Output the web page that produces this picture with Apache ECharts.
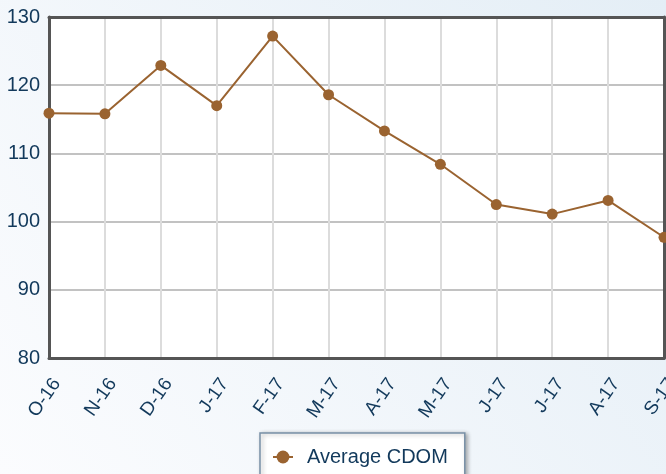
<!DOCTYPE html>
<html>
<head>
<meta charset="utf-8">
<script src="https://cdn.jsdelivr.net/npm/echarts@6/dist/echarts.min.js"></script>
<style>
  html, body { margin: 0; padding: 0; }
  #main { width: 666px; height: 474px; }
</style>
</head>
<body>
<div id="main"></div>
<script>
// monthly values
var months = ["O-16", "N-16", "D-16", "J-17", "F-17", "M-17", "A-17", "M-17", "J-17", "J-17", "A-17", "S-17"];
var avgCdom = [115.9, 115.8, 122.9, 117.0, 127.2, 118.6, 113.3, 108.4, 102.5, 101.1, 103.1, 97.7];
var yTicks = { min: 80, max: 130, interval: 10 };

var navy = "#12395b";
var brown = "#9a6330";
var frame = { show: true, onZero: false, lineStyle: { color: "#555555", width: 3 } };

var chart = echarts.init(document.getElementById("main"));
chart.setOption({
  animation: false,
  backgroundColor: {
    type: "linear", x: 0, y: 1, x2: 1, y2: 0,
    colorStops: [
      { offset: 0, color: "#fbfcfe" },
      { offset: 1, color: "#e4eef6" }
    ]
  },
  title: {
    text: "Monthly Average CDOM",
    left: 232,
    top: -22.5,
    textStyle: { color: navy, fontSize: 18, fontWeight: "bold", fontFamily: "Liberation Sans, Arial" }
  },
  grid: {
    left: 49, right: 2, top: 17, bottom: 116,
    outerBoundsMode: "none",
    containLabel: false,
    show: true,
    backgroundColor: "#ffffff",
    borderWidth: 0
  },
  legend: {
    data: ["Average CDOM"],
    left: 260,
    top: 433,
    padding: [14, 17, 20, 12],
    backgroundColor: "#ffffff",
    borderColor: "#7890a6",
    borderWidth: 1.5,
    shadowColor: "rgba(0,0,0,0.3)",
    shadowBlur: 4,
    shadowOffsetX: 2,
    shadowOffsetY: 1,
    itemWidth: 20,
    itemHeight: 16,
    textStyle: { color: navy, fontSize: 20, fontFamily: "Liberation Sans, Arial", padding: [0, 0, 0, 9] }
  },
  xAxis: [
    {
      type: "category",
      data: months,
      boundaryGap: false,
      axisLine: frame,
      axisTick: { show: false },
      axisLabel: {
        rotate: 55,
        margin: 17,
        verticalAlign: "top",
        color: navy,
        fontSize: 19,
        fontFamily: "Liberation Sans, Arial"
      },
      splitLine: { show: true, lineStyle: { color: "#dcdcdc", width: 2 } },
      z: 3
    },
    {
      type: "category",
      data: months,
      position: "top",
      boundaryGap: false,
      axisLine: frame,
      axisTick: { show: false },
      axisLabel: { show: false },
      splitLine: { show: false },
      z: 3
    }
  ],
  yAxis: [
    {
      type: "value",
      min: yTicks.min,
      max: yTicks.max,
      interval: yTicks.interval,
      axisLine: frame,
      axisTick: { show: false },
      axisLabel: { color: navy, fontSize: 20, margin: 9, fontFamily: "Liberation Sans, Arial" },
      splitLine: { show: true, lineStyle: { color: "#c2c2c2", width: 2 } },
      z: 3
    },
    {
      type: "value",
      position: "right",
      min: yTicks.min,
      max: yTicks.max,
      interval: yTicks.interval,
      axisLine: frame,
      axisTick: { show: false },
      axisLabel: { show: false },
      splitLine: { show: false },
      z: 3
    }
  ],
  series: [
    {
      name: "Average CDOM",
      type: "line",
      data: avgCdom,
      symbol: "circle",
      symbolSize: 11,
      itemStyle: { color: brown },
      lineStyle: { color: brown, width: 2 },
      z: 4
    }
  ]
});
</script>
</body>
</html>
